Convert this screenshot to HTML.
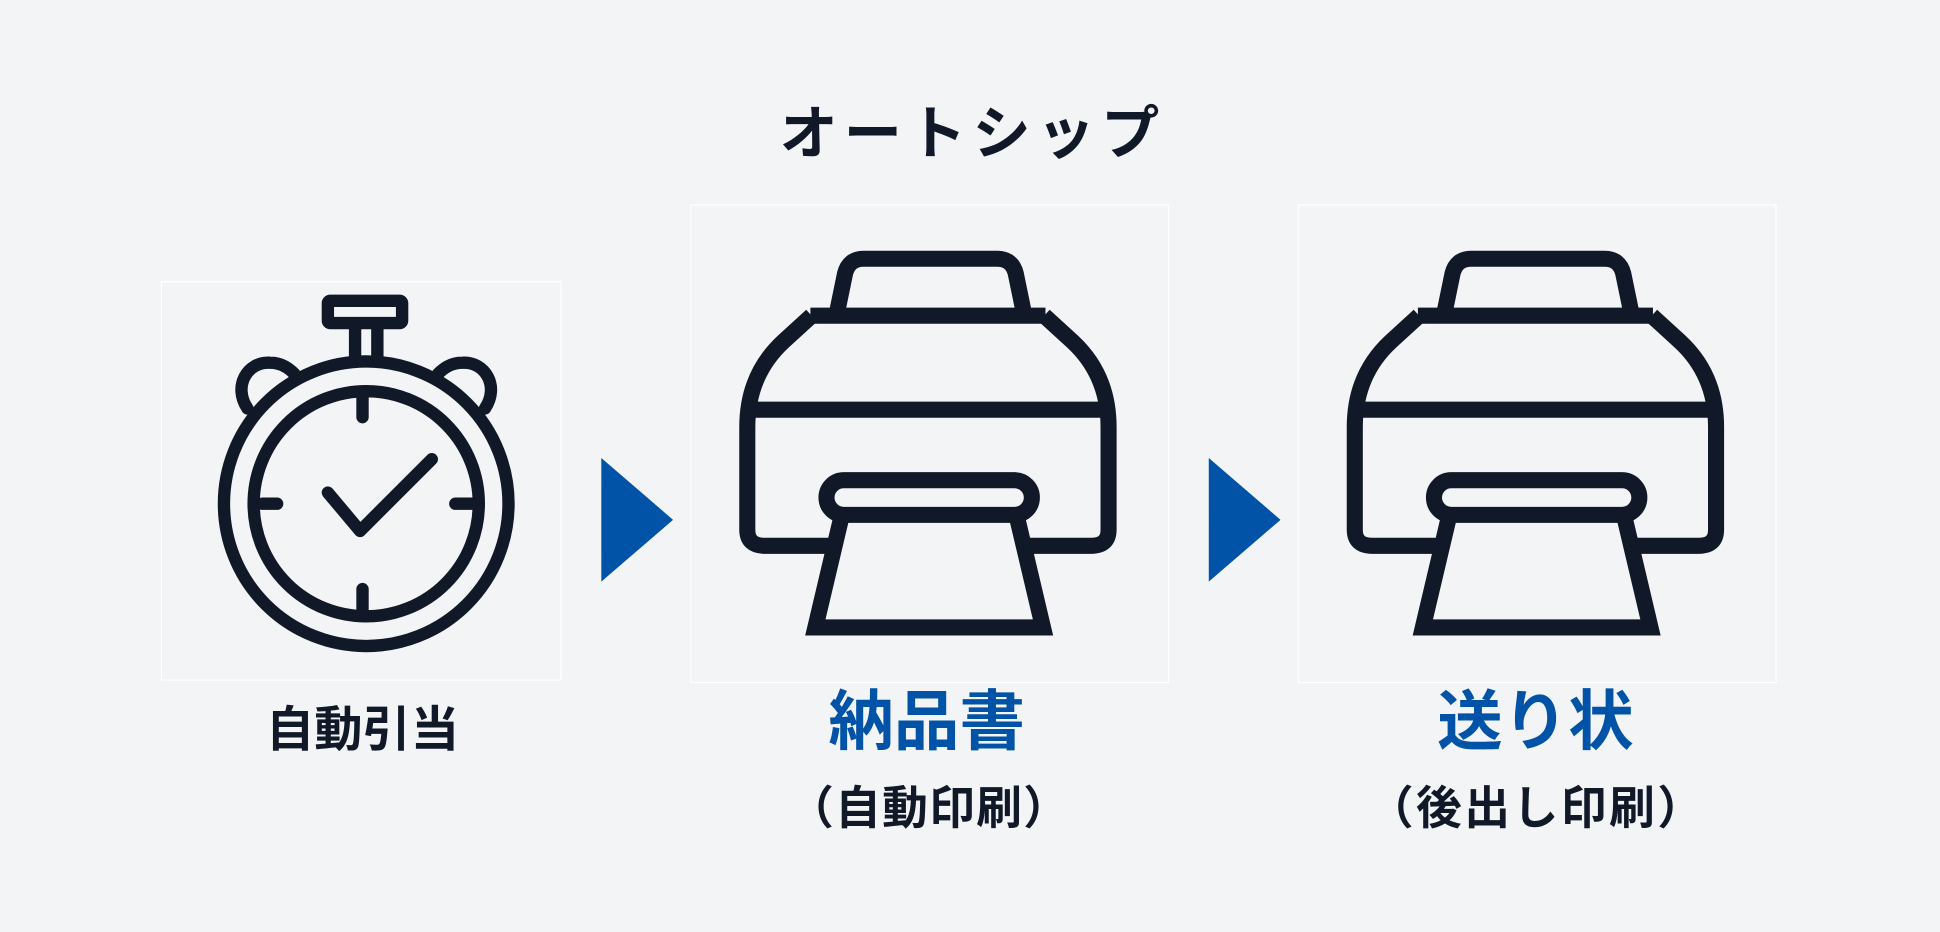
<!DOCTYPE html>
<html><head><meta charset="utf-8"><style>
html,body{margin:0;padding:0;background:#f3f4f6;}
svg{display:block;}
text{font-family:"Liberation Sans","Noto Sans CJK JP",sans-serif;font-weight:700;}
</style></head><body>
<svg width="1940" height="932" viewBox="0 0 1568 753" xmlns="http://www.w3.org/2000/svg">
<rect width="1568" height="753" fill="#f3f4f6"/>
<text x="786" y="124" font-size="47" text-anchor="middle" fill="#111827" letter-spacing="5">オートシップ</text>

<rect x="130.5" y="227.5" width="323" height="322" fill="#f3f4f6" stroke="#ffffff" stroke-width="1"/>
<rect x="558.5" y="165.5" width="386" height="386" fill="#f3f4f6" stroke="#ffffff" stroke-width="1"/>
<rect x="1049.5" y="165.5" width="386" height="386" fill="#f3f4f6" stroke="#ffffff" stroke-width="1"/>

<g fill="none" stroke="#111827" stroke-width="10" stroke-linecap="round" stroke-linejoin="round">
  <circle cx="296" cy="407" r="115"/>
  <circle cx="296" cy="407" r="91"/>
  <rect x="265" y="243" width="60" height="18" rx="2"/>
  <line x1="287" y1="262" x2="287" y2="289"/>
  <line x1="305" y1="262" x2="305" y2="289"/>
  <path d="M200,330 C188,312 200,292 218,293 C228,293 234,298 238,302"/>
  <path d="M392,330 C404,312 392,292 374,293 C364,293 358,298 354,302"/>
  <line x1="293" y1="320" x2="293" y2="337"/>
  <line x1="293" y1="476" x2="293" y2="492"/>
  <line x1="212" y1="407" x2="224" y2="407"/>
  <line x1="368" y1="407" x2="382" y2="407"/>
  <path d="M265,398 L291,429 L349,371"/>
</g>
<text x="293" y="603" font-size="39" text-anchor="middle" fill="#111827">自動引当</text>

<polygon points="486,370 544,420 486,470" fill="#0053a6"/>
<polygon points="977,370 1035,420 977,470" fill="#0053a6"/>

<g id="pr" fill="none" stroke="#111827" stroke-width="13" stroke-linejoin="round">
  <path d="M676,255 L683,221 Q686,209 698,209 L806,209 Q818,209 821,221 L828,255"/>
  <path d="M655,255 L845,255"/>
  <path d="M656,255 L633,276 Q604,303 604,345 L604,428 Q604,441 618,441 L670,441"/>
  <path d="M844,255 L867,276 Q896,303 896,345 L896,428 Q896,441 882,441 L830,441"/>
  <path d="M606,331 L894,331"/>
  <rect x="668" y="388" width="166" height="28" rx="14"/>
  <path d="M680,418 L659,507 L843,507 L822,418" stroke-linejoin="miter"/>
</g>
<use href="#pr" x="491" y="0"/>

<text x="749" y="601" font-size="53" text-anchor="middle" fill="#0053a6">納品書</text>
<text x="751" y="666" font-size="37" text-anchor="middle" fill="#111827" letter-spacing="1">（自動印刷）</text>
<text x="1241" y="601" font-size="53" text-anchor="middle" fill="#0053a6">送り状</text>
<text x="1242" y="666" font-size="37" text-anchor="middle" fill="#111827" letter-spacing="2">（後出し印刷）</text>
</svg>
</body></html>
